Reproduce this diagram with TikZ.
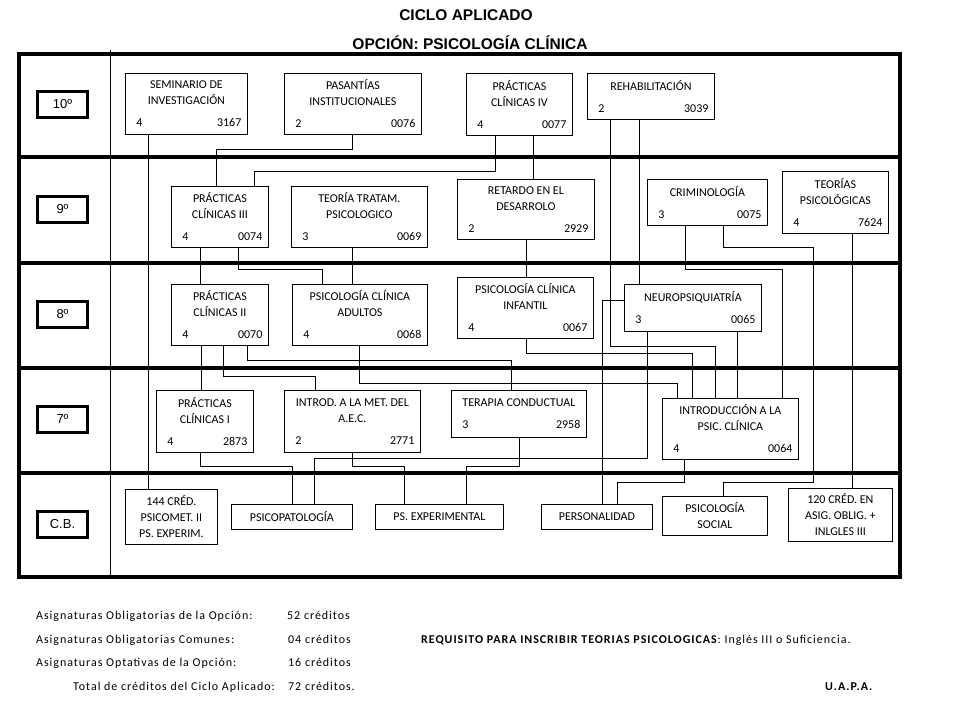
\documentclass[tikz,border=0pt]{standalone}
\usepackage{fontspec}
\setmainfont{Carlito}
\newfontfamily\arialfont{Liberation Sans}
\newfontfamily\notefont{Carlito}[LetterSpace=8]
\usepackage{tikz}
\usetikzlibrary{positioning}
\newcommand{\coursefont}{\fontsize{12}{16}\selectfont}
\newcommand{\labelfont}{\arialfont\fontsize{13}{15}\selectfont}
\newcommand{\footfont}{\notefont\fontsize{12}{14}\selectfont}
\newcommand{\nums}[2]{\\[6pt]\hspace*{5pt}#1\hfill#2\hspace*{7pt}}
\tikzstyle{course}=[draw,line width=0.8pt,rectangle,anchor=north west,inner xsep=6pt,inner ysep=1pt,align=flush center,font=\coursefont]
\tikzstyle{semester}=[draw,line width=3pt,rectangle,minimum width=50pt,minimum height=26pt,font=\labelfont]
\tikzstyle{link}=[line width=0.8pt]
\tikzstyle{rowline}=[line width=3.5pt]
\tikzstyle{foot}=[anchor=base west,inner sep=0pt,font=\footfont]

\begin{document}
\begin{tikzpicture}[x=1pt,y=-1pt]
\useasboundingbox (0,0) rectangle (960,720);

% titles
\node[font=\arialfont\bfseries\fontsize{15.5}{18}\selectfont,anchor=base] (title) at (466,20) {CICLO APLICADO};
\node[font=\arialfont\bfseries\fontsize{15.5}{18}\selectfont,anchor=base] (option) at (470,49) {OPCIÓN: PSICOLOGÍA CLÍNICA};

% frame and rows
\draw[rowline] (19,54) rectangle (900,577);
\foreach \y in {157,263,368,473}
  \draw[rowline] (19,\y) -- (900,\y);
\draw[link] (110,50) -- (110,577);

% semesters
\node[semester] (s10) at (62.5,104) {10º};
\node[semester] (s9) at (62.5,209) {9º};
\node[semester] (s8) at (62.5,314.5) {8º};
\node[semester] (s7) at (62.5,419) {7º};
\node[semester] (scb) at (62.5,524.5) {C.B.};

% 10th
\node[course,text width=110pt,minimum height=61pt] (sem) at (125,73) {SEMINARIO DE\\INVESTIGACIÓN\nums{4}{3167}};
\node[course,text width=125pt,minimum height=61pt] (pas) at (284,73) {PASANTÍAS\\INSTITUCIONALES\nums{2}{0076}};
\node[course,text width=94pt,minimum height=62pt] (pc4) at (466,73) {PRÁCTICAS\\CLÍNICAS IV\nums{4}{0077}};
\node[course,text width=115pt,minimum height=46pt] (reh) at (587,73) {REHABILITACIÓN\nums{2}{3039}};

% 9th
\node[course,text width=85pt,minimum height=61pt] (pc3) at (171,186) {PRÁCTICAS\\CLÍNICAS III\nums{4}{0074}};
\node[course,text width=124pt,minimum height=61pt] (ttp) at (291,186) {TEORÍA TRATAM.\\PSICOLOGICO\nums{3}{0069}};
\node[course,text width=125pt,minimum height=60pt] (ret) at (457,179) {RETARDO EN EL\\DESARROLO\nums{2}{2929}};
\node[course,text width=108pt,minimum height=46pt] (crim) at (647,179) {CRIMINOLOGÍA\nums{3}{0075}};
\node[course,text width=94pt,minimum height=62pt] (teor) at (782,171) {TEORÍAS\\PSICOLÓGICAS\nums{4}{7624}};

% 8th
\node[course,text width=85pt,minimum height=61pt] (pc2) at (171,284) {PRÁCTICAS\\CLÍNICAS II\nums{4}{0070}};
\node[course,text width=123pt,minimum height=61pt] (pca) at (292,284) {PSICOLOGÍA CLÍNICA\\ADULTOS\nums{4}{0068}};
\node[course,text width=124pt,minimum height=61pt] (pcinf) at (457,277) {PSICOLOGÍA CLÍNICA\\INFANTIL\nums{4}{0067}};
\node[course,text width=125pt,minimum height=47pt] (neuro) at (624,284) {NEUROPSIQUIATRÍA\nums{3}{0065}};

% 7th
\node[course,text width=85pt,minimum height=62pt] (pc1) at (156,390) {PRÁCTICAS\\CLÍNICAS I\nums{4}{2873}};
\node[course,text width=124pt,minimum height=62pt] (introd) at (284,390) {INTROD. A LA MET. DEL\\A.E.C.\nums{2}{2771}};
\node[course,text width=123pt,minimum height=47pt] (terap) at (451,390) {TERAPIA CONDUCTUAL\nums{3}{2958}};
\node[course,text width=124pt,minimum height=61pt] (intro) at (662,398) {INTRODUCCIÓN A LA\\PSIC. CLÍNICA\nums{4}{0064}};

% basic cycle
\node[course,text width=80pt,minimum height=55pt] (cb144) at (125,489) {144 CRÉD.\\PSICOMET. II\\PS. EXPERIM.};
\node[course,text width=109pt,minimum height=25pt] (psicop) at (231,504) {PSICOPATOLOGÍA};
\node[course,text width=116pt,minimum height=25pt] (psexp) at (375,504) {PS. EXPERIMENTAL};
\node[course,text width=99pt,minimum height=25pt] (pers) at (541,504) {PERSONALIDAD};
\node[course,text width=93pt,minimum height=39pt] (psoc) at (662,496) {PSICOLOGÍA\\SOCIAL};
\node[course,text width=92pt,minimum height=53pt] (cb120) at (788,488) {120 CRÉD. EN\\ASIG. OBLIG. +\\INLGLES III};

% prerequisites
\draw[link] (sem.south -| 148,0) -- (cb144.north -| 148,0);
\draw[link] (pas.south -| 352,0) -- ++(0,15) -| (pc3.north -| 216,0);
\draw[link] (pc4.south -| 495,0) -- ++(0,36) -| (pc3.north -| 254,0);
\draw[link] (pc4.south -| 533,0) -- (ret.north -| 533,0);
\draw[link] (reh.south -| 610,0) -- ++(0,227) -| (intro.north -| 715,0);
\draw[link] (reh.south -| 639,0) -- (neuro.north -| 639,0);
\draw[link] (pc3.south -| 200,0) -- (pc2.north -| 200,0);
\draw[link] (pc3.south -| 238,0) -- ++(0,22) -| (pca.north -| 322,0);
\draw[link] (ttp.south -| 352,0) -- (pca.north -| 352,0);
\draw[link] (ret.south -| 526,0) -- (pcinf.north -| 526,0);
\draw[link] (crim.south -| 685,0) -- ++(0,44) -| (intro.north -| 782,0);
\draw[link] (crim.south -| 723,0) -- ++(0,22) -| (813,482) -| (psoc.north -| 723,0);
\draw[link] (teor.south -| 852,0) -- (cb120.north -| 852,0);
\draw[link] (pc2.south -| 201,0) -- (pc1.north -| 201,0);
\draw[link] (pc2.south -| 223,0) -- ++(0,31) -| (introd.north -| 315,0);
\draw[link] (pc2.south -| 247,0) -- ++(0,15) -| (terap.north -| 511,0);
\draw[link] (pca.south -| 359,0) -- ++(0,38) -| (intro.north -| 677,0);
\draw[link] (pcinf.south -| 526,0) -- ++(0,15) -| (intro.north -| 692,0);
\draw[link] (neuro.west |- 0,300) -| (pers.north -| 602,0);
\draw[link] (neuro.south -| 647,0) -- ++(0,127) -| (psicop.north -| 314,0);
\draw[link] (neuro.south -| 737,0) -- (intro.north -| 737,0);
\draw[link] (pc1.south -| 200,0) -- ++(0,14) -| (psicop.north -| 292,0);
\draw[link] (introd.south -| 352,0) -- ++(0,14) -| (psexp.north -| 404,0);
\draw[link] (terap.south -| 519,0) -- ++(0,29) -| (psexp.north -| 466,0);
\draw[link] (intro.south -| 684,0) -- ++(0,23) -| (pers.north -| 617,0);

% credits
\node[foot] (f1) at (36,619) {Asignaturas Obligatorias de la Opción:};
\node[foot] (c1) at (287,619) {52 créditos};
\node[foot] (f2) at (36,643) {Asignaturas Obligatorias Comunes:};
\node[foot] (c2) at (288,643) {04 créditos};
\node[foot] (req) at (421,643) {\textbf{REQUISITO PARA INSCRIBIR TEORIAS PSICOLOGICAS}: Inglés III o Suficiencia.};
\node[foot] (f3) at (36,666) {Asignaturas Optativas de la Opción:};
\node[foot] (c3) at (288,666) {16 créditos};
\node[foot] (f4) at (73,690) {Total de créditos del Ciclo Aplicado:};
\node[foot] (c4) at (288,690) {72 créditos.};
\node[foot,font=\footfont\bfseries] (uapa) at (825,690) {U.A.P.A.};
\end{tikzpicture}
\end{document}
